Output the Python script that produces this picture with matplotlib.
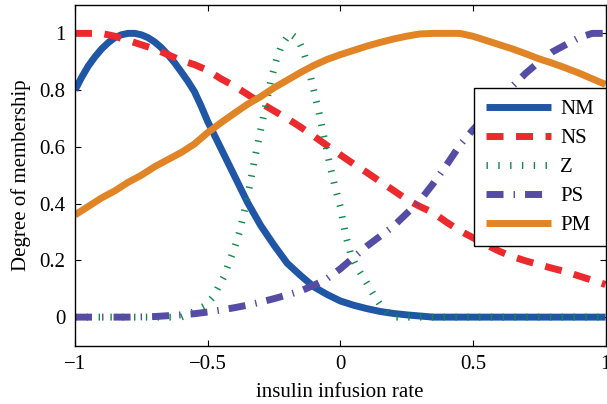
import numpy as np
import matplotlib
matplotlib.use("Agg")
import matplotlib.pyplot as plt

plt.rcParams["font.family"] = ["Liberation Serif", "DejaVu Serif"]
plt.rcParams["font.size"] = 15

# shared grid for the smooth curves
x = [-1.0, -0.95, -0.9, -0.85, -0.8, -0.75, -0.7, -0.65, -0.6, -0.55,
     -0.5, -0.45, -0.4, -0.35, -0.3, -0.25, -0.2, -0.15, -0.1, -0.05,
     0.0, 0.05, 0.1, 0.15, 0.2, 0.25, 0.3, 0.35, 0.4, 0.45,
     0.5, 0.55, 0.6, 0.65, 0.7, 0.75, 0.8, 0.85, 0.9, 0.95, 1.0]

# NM has a rounded peak, so it gets a finer grid on the left
nm_x = [-1.0, -0.975, -0.95, -0.925, -0.9, -0.875, -0.85, -0.825, -0.8, -0.775,
        -0.75, -0.725, -0.7, -0.675, -0.65, -0.625, -0.6, -0.575, -0.55, -0.525,
        -0.5, -0.45, -0.4, -0.35, -0.3, -0.25, -0.2, -0.15, -0.1, -0.05,
        0.0, 0.05, 0.1, 0.15, 0.2, 0.25, 0.3, 0.35, 1.0]
nm = [0.80, 0.845, 0.885, 0.917, 0.945, 0.967, 0.985, 0.995, 1.0, 1.0,
      0.995, 0.985, 0.97, 0.95, 0.925, 0.897, 0.865, 0.832, 0.795, 0.745,
      0.69, 0.595, 0.50, 0.405, 0.323, 0.254, 0.19, 0.147, 0.107, 0.08,
      0.057, 0.042, 0.03, 0.02, 0.013, 0.008, 0.004, 0.0, 0.0]

ns = [1.0, 1.0, 1.0, 0.99, 0.975, 0.96, 0.945, 0.925, 0.905, 0.89,
      0.87, 0.84, 0.815, 0.785, 0.755, 0.727, 0.70, 0.67, 0.638, 0.605,
      0.572, 0.54, 0.51, 0.478, 0.447, 0.415, 0.39, 0.368, 0.335, 0.305,
      0.28, 0.255, 0.232, 0.213, 0.198, 0.185, 0.172, 0.16, 0.145, 0.13, 0.115]

ps = [0.0, 0.0, 0.0, 0.0, 0.0, 0.001, 0.002, 0.005, 0.008, 0.012,
      0.018, 0.025, 0.033, 0.042, 0.053, 0.065, 0.078, 0.092, 0.112, 0.135,
      0.17, 0.21, 0.25, 0.285, 0.32, 0.365, 0.41, 0.47, 0.535, 0.605,
      0.66, 0.71, 0.76, 0.815, 0.86, 0.90, 0.935, 0.96, 0.985, 1.0, 1.0]

pm = [0.36, 0.39, 0.42, 0.445, 0.475, 0.50, 0.53, 0.555, 0.58, 0.61,
      0.65, 0.685, 0.718, 0.75, 0.777, 0.808, 0.835, 0.862, 0.887, 0.908,
      0.925, 0.94, 0.955, 0.968, 0.98, 0.99, 0.998, 1.0, 1.0, 1.0,
      0.99, 0.975, 0.96, 0.945, 0.928, 0.91, 0.895, 0.878, 0.86, 0.84, 0.82]

# Z is a narrow peak, read on its own grid
z_x = [-1.0, -0.6, -0.555, -0.51, -0.48, -0.46, -0.44, -0.42, -0.40, -0.38,
       -0.36, -0.34, -0.32, -0.30, -0.28, -0.26, -0.24, -0.22, -0.19,
       -0.16, -0.14, -0.12, -0.10, -0.08, -0.06, -0.04, -0.02, 0.0,
       0.02, 0.04, 0.06, 0.08, 0.10, 0.125, 0.15, 0.18, 0.21, 1.0]
z_y = [0.0, 0.0, 0.018, 0.04, 0.07, 0.105, 0.14, 0.19, 0.24, 0.30,
       0.38, 0.47, 0.57, 0.66, 0.75, 0.84, 0.91, 0.96, 1.0,
       0.98, 0.94, 0.88, 0.80, 0.72, 0.63, 0.54, 0.46, 0.39,
       0.29, 0.22, 0.18, 0.15, 0.12, 0.08, 0.045, 0.015, 0.0, 0.0]

labels = ["NM", "NS", "Z", "PS", "PM"]
xtick_vals = [-1, -0.5, 0, 0.5, 1]
xtick_labels = ["\u22121", "\u22120.5", "0", "0.5", "1"]
ytick_vals = [0, 0.2, 0.4, 0.6, 0.8, 1]
ytick_labels = ["0", "0.2", "0.4", "0.6", "0.8", "1"]

fig = plt.figure(figsize=(6.07, 4.04), dpi=100)
ax = fig.add_axes([75 / 607, 1 - 345.5 / 404, 530.5 / 607, 340.5 / 404])

lw = 5
ax.plot(nm_x, nm, color="#1f56a6", lw=lw, solid_capstyle="butt", label=labels[0])
ax.plot(x, ns, color="#ec2a2e", lw=lw, ls=(0, (2.45, 1.8)), label=labels[1])
ax.plot(z_x, z_y, color="#0f8a48", lw=lw, ls=(0, (0.2, 1.5)), label=labels[2])
ax.plot(x, ps, color="#554ca3", lw=lw, ls=(0, (2.45, 1.45, 0.2, 1.45)), label=labels[3])
ax.plot(x, pm, color="#e08426", lw=lw, solid_capstyle="butt", label=labels[4])

ax.set_xlim(-1, 1)
ax.set_ylim(-0.1, 1.1)
ax.set_xticks(xtick_vals)
ax.set_xticklabels(xtick_labels)
ax.set_yticks(ytick_vals)
ax.set_yticklabels(ytick_labels)
ax.tick_params(direction="in", length=4, width=0.8, top=True, right=True, pad=7)
for s in ax.spines.values():
    s.set_linewidth(1.0)

ax.set_xlabel("insulin infusion rate", labelpad=6)
ax.set_ylabel("Degree of membership", labelpad=6)

leg = ax.legend(loc="upper right", bbox_to_anchor=(1.0, 0.756), borderaxespad=0,
                handlelength=3.13, labelspacing=0.45, fancybox=False, framealpha=1,
                edgecolor="black", borderpad=0.55, handletextpad=0.45)
leg.get_frame().set_linewidth(1.0)

fig.savefig("out.png", dpi=100)
